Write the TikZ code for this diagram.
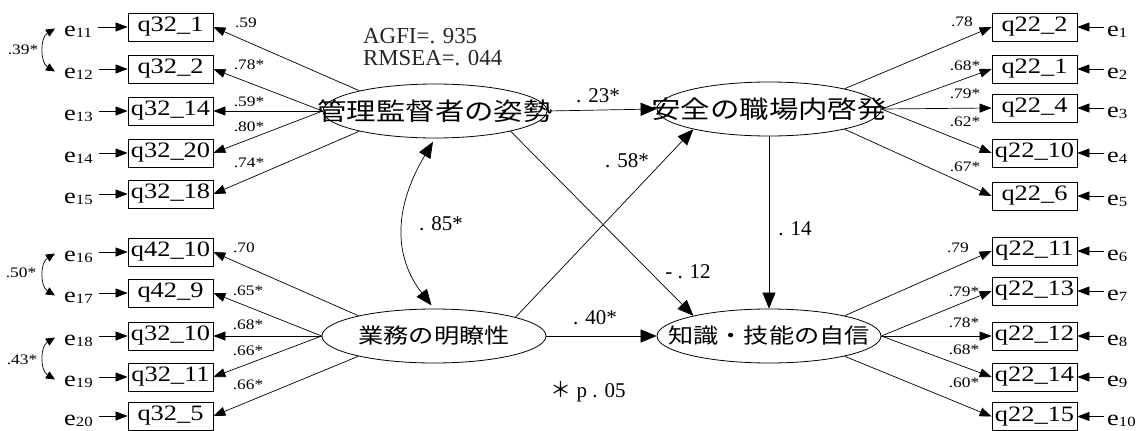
\documentclass[tikz,border=0pt]{standalone}
\usepackage{fontspec}
\usepackage{graphicx}
\setmainfont{Liberation Serif}
\newfontfamily\jpfont{Noto Sans CJK JP}
\usetikzlibrary{arrows.meta,calc,shapes.geometric}
\newcommand{\hstr}[1]{\scalebox{1.2}[1]{#1}}
\newcommand{\lattext}[2]{\makebox[0pt]{\jpfont\fontsize{#1}{#1}\selectfont\raisebox{-0.38em}[0pt][0pt]{\hstr{#2}}}}
\newcommand{\esub}[1]{\hstr{e\raisebox{-1pt}{\fontsize{14}{14}\selectfont #1}}}
\tikzset{
  obs/.style={draw, rectangle, minimum width=85pt, minimum height=28pt, inner sep=0pt,
    line width=0.8pt, font=\fontsize{22}{22}\selectfont},
  lat/.style={draw, ellipse, minimum width=224pt, minimum height=54pt, inner sep=0pt, line width=0.8pt},
  err/.style={inner sep=0pt, font=\fontsize{22}{22}\selectfont},
  ld/.style={inner sep=0pt, font=\fontsize{14.5}{14.5}\selectfont},
  pl/.style={inner sep=0pt, font=\fontsize{21}{21}\selectfont},
  fitidx/.style={inner sep=0pt, anchor=base west, text=black!85},
  sarr/.style={-{Triangle[length=12pt,width=9pt]}, line width=0.7pt},
  barr/.style={-{Triangle[length=16pt,width=13pt]}, line width=0.7pt},
  carr/.style={{Triangle[length=9pt,width=8pt]}-{Triangle[length=9pt,width=8pt]}, line width=0.7pt},
  darr/.style={{Triangle[length=16pt,width=13pt]}-{Triangle[length=16pt,width=13pt]}, line width=0.7pt},
}
\begin{document}
\begin{tikzpicture}[x=1pt,y=-1pt]
\useasboundingbox (0,0) rectangle (1136,431);

% latent variables
\node[lat] (mgr) at (435,111) {\lattext{24.5}{管理監督者の姿勢}};
\node[lat] (saf) at (769,109) {\lattext{24.5}{安全の職場内啓発}};
\node[lat] (biz) at (434,336) {\lattext{21}{業務の明瞭性}};
\node[lat] (kno) at (769,336) {\lattext{21}{知識・技能の自信}};

% left observed variables
\foreach \n/\y/\t/\e in {1/27/q32\_1/11, 2/69/q32\_2/12, 3/111/q32\_14/13, 4/153/q32\_20/14, 5/194/q32\_18/15,
                        6/252/q42\_10/16, 7/293/q42\_9/17, 8/336/q32\_10/18, 9/377/q32\_11/19, 10/416/q32\_5/20}{
  \node[obs] (l\n) at (170.5,\y) {\hstr{\t}};
  \node[err, anchor=west] (le\n) at (64,\y+4.5) {\esub{\e}};
  \draw[sarr, shorten <=6pt] (le\n.east |- l\n) -- (l\n.west);
}
% right observed variables
\foreach \n/\y/\t/\e in {1/27/q22\_2/1, 2/69/q22\_1/2, 3/108/q22\_4/3, 4/153/q22\_10/4, 5/196/q22\_6/5,
                        6/251/q22\_11/6, 7/291/q22\_13/7, 8/336/q22\_12/8, 9/377/q22\_14/9, 10/416.5/q22\_15/10}{
  \node[obs] (r\n) at (1034.5,\y) {\hstr{\t}};
  \node[err, anchor=west] (re\n) at (1107,\y+4.5) {\esub{\e}};
  \draw[sarr, shorten <=3pt] (re\n.west |- r\n) -- (r\n.east);
}

% loadings
\draw[sarr] (mgr.165) -- (l1.east);
\draw[sarr] (mgr.west) -- (l2.east);
\draw[sarr] (mgr.west) -- (l3.east);
\draw[sarr] (mgr.west) -- (l4.east);
\draw[sarr] (mgr.195) -- (l5.east);
\draw[sarr] (biz.165) -- (l6.east);
\draw[sarr] (biz.west) -- (l7.east);
\draw[sarr] (biz.west) -- (l8.east);
\draw[sarr] (biz.west) -- (l9.east);
\draw[sarr] (biz.195) -- (l10.east);
\draw[sarr] (saf.15) -- (r1.west);
\draw[sarr] (saf.east) -- (r2.west);
\draw[sarr] (saf.east) -- (r3.west);
\draw[sarr] (saf.east) -- (r4.west);
\draw[sarr] (saf.-15) -- (r5.west);
\draw[sarr] (kno.15) -- (r6.west);
\draw[sarr] (kno.east) -- (r7.west);
\draw[sarr] (kno.east) -- (r8.west);
\draw[sarr] (kno.east) -- (r9.west);
\draw[sarr] (kno.-15) -- (r10.west);

% loading labels
\node[ld] (a1) at (246,23) {\hstr{.59}};
\node[ld] (a2) at (249,65) {\hstr{.78*}};
\node[ld] (a3) at (249,102) {\hstr{.59*}};
\node[ld] (a4) at (249,127) {\hstr{.80*}};
\node[ld] (a5) at (249,163) {\hstr{.74*}};
\node[ld] (a6) at (244,248) {\hstr{.70}};
\node[ld] (a7) at (248,291) {\hstr{.65*}};
\node[ld] (a8) at (248,325) {\hstr{.68*}};
\node[ld] (a9) at (248,351) {\hstr{.66*}};
\node[ld] (a10) at (248,385) {\hstr{.66*}};
\node[ld] (b1) at (962,22) {\hstr{.78}};
\node[ld] (b2) at (965,66) {\hstr{.68*}};
\node[ld] (b3) at (965,94) {\hstr{.79*}};
\node[ld] (b4) at (965,122) {\hstr{.62*}};
\node[ld] (b5) at (965,167) {\hstr{.67*}};
\node[ld] (b6) at (958,248) {\hstr{.79}};
\node[ld] (b7) at (964,292) {\hstr{.79*}};
\node[ld] (b8) at (964,323) {\hstr{.78*}};
\node[ld] (b9) at (964,350) {\hstr{.68*}};
\node[ld] (b10) at (964,383) {\hstr{.60*}};

% error covariances
\coordinate (c1a) at ($(le1.west)+(-9,-3)$);
\coordinate (c1b) at ($(le2.west)+(-9,-2)$);
\coordinate (c6a) at ($(le6.west)+(-9,-3)$);
\coordinate (c6b) at ($(le7.west)+(-9,-2)$);
\coordinate (c8a) at ($(le8.west)+(-9,-3)$);
\coordinate (c8b) at ($(le9.west)+(-9,-2)$);
\draw[carr] (c1a) .. controls +(-15,9) and +(-15,-9) .. (c1b);
\draw[carr] (c6a) .. controls +(-15,9) and +(-15,-9) .. (c6b);
\draw[carr] (c8a) .. controls +(-15,9) and +(-15,-9) .. (c8b);
\node[ld] (k1) at (23,50) {\hstr{.39*}};
\node[ld] (k2) at (21,273) {\hstr{.50*}};
\node[ld] (k3) at (22,360) {\hstr{.43*}};

% structural paths
\draw[barr] (mgr.east) -- (saf.west);
\draw[barr] (biz.east) -- (kno.west);
\draw[barr] (biz.13) -- (saf.195);
\draw[barr] (mgr.-15) -- (kno.165);
\draw[barr] (saf.south) -- (kno.north);
\draw[darr, shorten <=4pt, shorten >=4pt] (mgr.south) .. controls +(-40,67) and +(-42,-54) .. (biz.north);

\node[pl] (p1) at (598,96) {. 23*};
\node[pl] (p2) at (627,161) {. 58*};
\node[pl] (p3) at (688,272) {- . 12};
\node[pl] (p4) at (795,229) {. 14};
\node[pl] (p5) at (595,318) {. 40*};
\node[pl] (p6) at (441,224) {. 85*};
\node[pl] (note) at (588,392) {{\jpfont ＊} p . 05};

% fit indices
\node[fitidx] (agfi) at (363,43) {\resizebox{114pt}{!}{AGFI=. 935}};
\node[fitidx] (rmsea) at (363,65) {\resizebox{139pt}{!}{RMSEA=. 044}};
\end{tikzpicture}
\end{document}
